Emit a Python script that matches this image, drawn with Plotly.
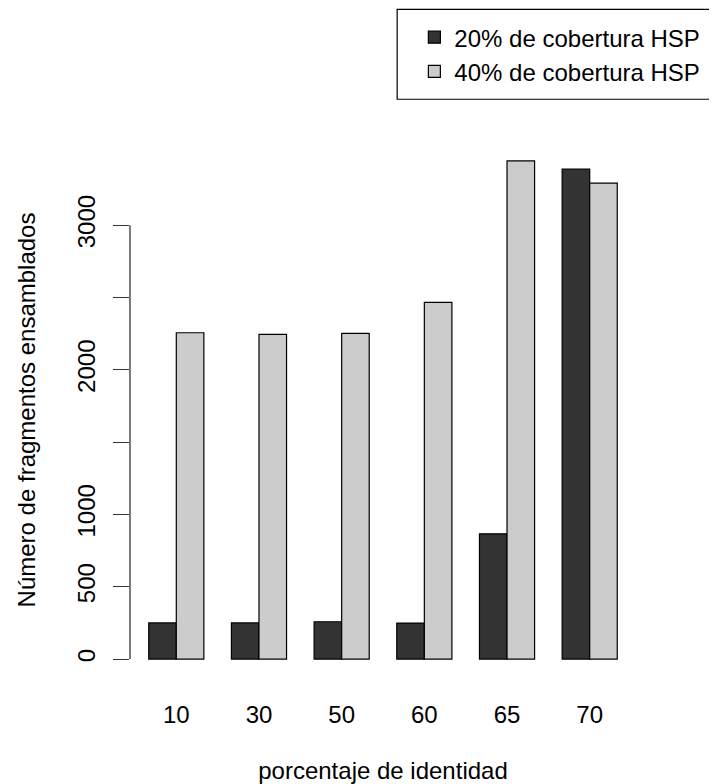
import plotly.graph_objects as go

categories = ["10", "30", "50", "60", "65", "70"]
cov20 = [250, 250, 258, 249, 866, 3387]
cov40 = [2256, 2245, 2252, 2466, 3444, 3290]
series_names = ["20% de cobertura HSP", "40% de cobertura HSP"]
ytick_vals = [0, 500, 1000, 1500, 2000, 2500, 3000]
ytick_text = ["0", "500", "1000", "", "2000", "", "3000"]

FONT = "Liberation Sans, Arial, Helvetica, sans-serif"

fig = go.Figure()
fig.add_trace(go.Bar(x=categories, y=cov20, name=series_names[0],
                     marker=dict(color="#333333", line=dict(color="#000000", width=1.2))))
fig.add_trace(go.Bar(x=categories, y=cov40, name=series_names[1],
                     marker=dict(color="#cccccc", line=dict(color="#000000", width=1.2))))

ymax = max(max(cov20), max(cov40))
pad = 0.04 * ymax

# page body has an 8px margin: compensate so the plot lands where the reference has it
fig.update_layout(
    width=709, height=776,
    margin=dict(l=122, r=81, t=133, b=105, autoexpand=False),
    paper_bgcolor="white", plot_bgcolor="white",
    barmode="group", bargap=1/3, bargroupgap=0,
    font=dict(family=FONT, size=24, color="#000000"),
    showlegend=True,
    legend=dict(x=0.562, y=1.234, xanchor="left", yanchor="top",
                bgcolor="rgba(0,0,0,0)", borderwidth=0,
                font=dict(size=24, family=FONT, color="#000000"),
                traceorder="normal"),
    xaxis=dict(type="category", range=[-0.56, 5.56], showline=False, showgrid=False,
               zeroline=False, ticks="", tickfont=dict(size=24),
               ticklabelstandoff=19,
               title=dict(text="porcentaje de identidad", font=dict(size=24), standoff=40)),
    yaxis=dict(range=[-pad, ymax + pad], tickmode="array", tickvals=ytick_vals,
               ticktext=ytick_text, ticks="outside", ticklen=16, tickwidth=1.3,
               tickcolor="#333333", showline=False, showgrid=False, zeroline=False,
               tickangle=-90, tickfont=dict(size=24), ticklabelstandoff=8,
               title=dict(text="Número de fragmentos ensamblados", font=dict(size=24), standoff=31)),
    shapes=[
        dict(type="line", xref="paper", yref="y", x0=0, x1=0, y0=0, y1=3000,
             line=dict(color="#333333", width=1.3)),
        dict(type="rect", xref="paper", yref="paper", x0=0.528, x1=1.3, y0=1.0776, y1=1.2448,
             line=dict(color="#000000", width=1.2)),
    ],
)

fig.write_html("out.html")
